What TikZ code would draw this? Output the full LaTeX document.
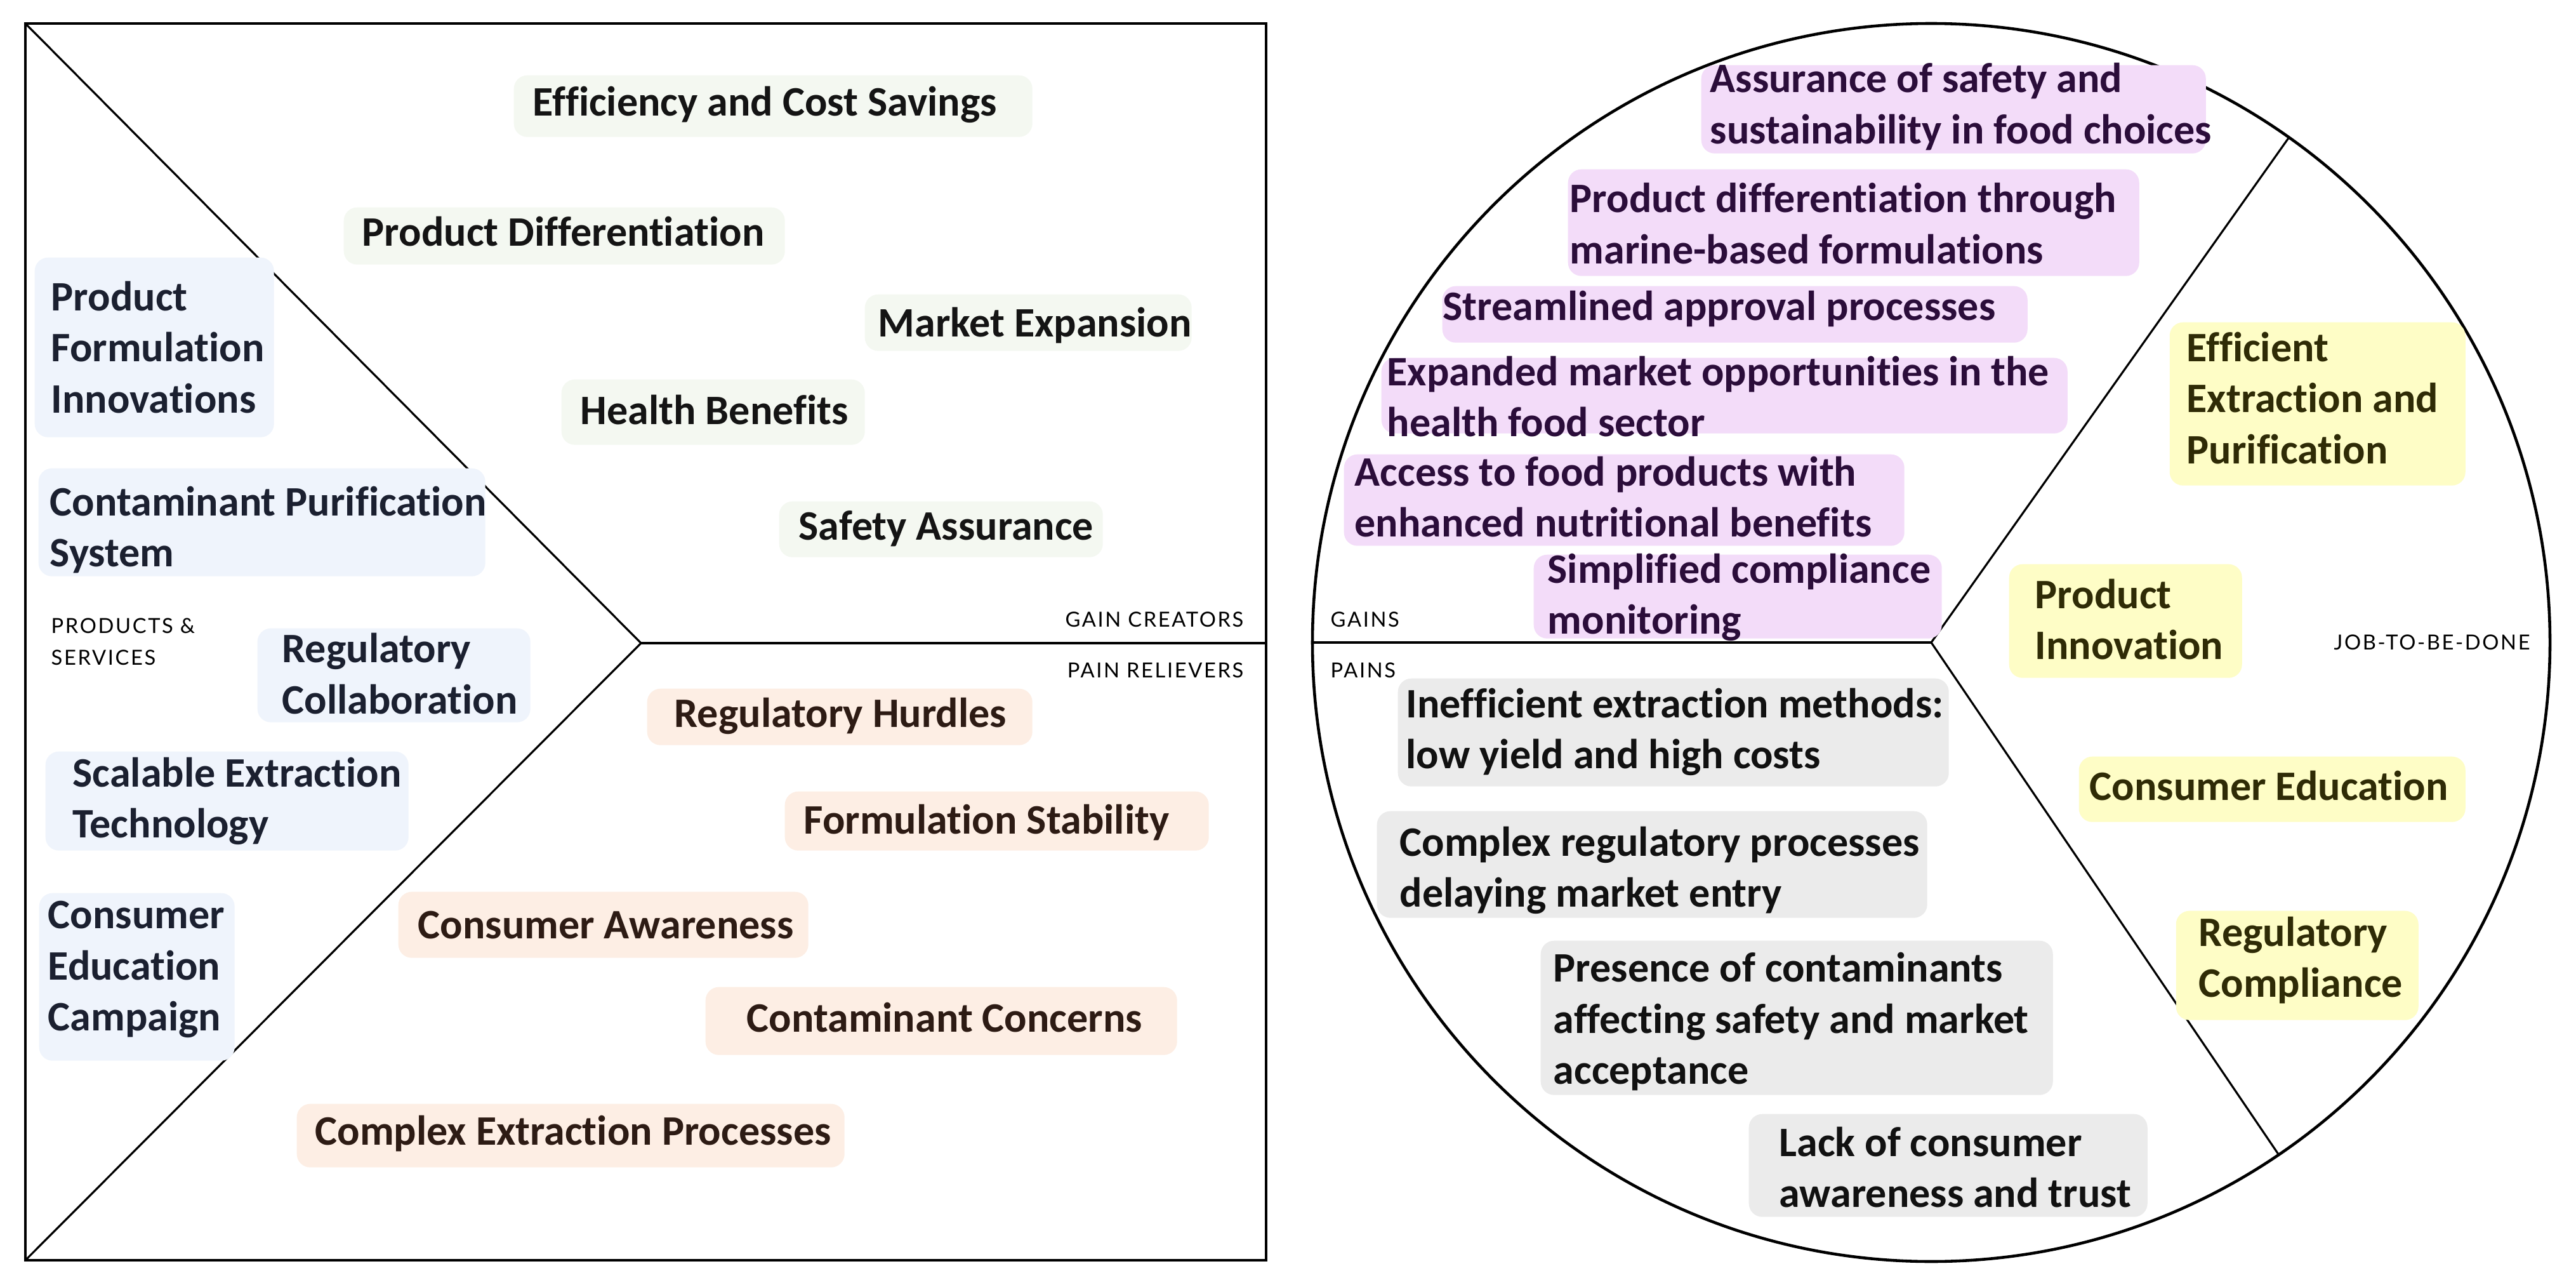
\documentclass[tikz,border=0pt]{standalone}
\usepackage{fontspec}
\setmainfont{Carlito}[Ligatures={NoCommon}]
\newfontfamily\lblfont[LetterSpace=8]{Lato}
\definecolor{gcfill}{HTML}{F4F8F1}
\definecolor{psfill}{HTML}{EFF4FC}
\definecolor{prfill}{HTML}{FDEEE4}
\definecolor{gnfill}{HTML}{F3DCF9}
\definecolor{jbfill}{HTML}{FEFDC6}
\definecolor{pnfill}{HTML}{EBEBEB}
\definecolor{gctext}{HTML}{141414}
\definecolor{pstext}{HTML}{1B2030}
\definecolor{prtext}{HTML}{2D1B14}
\definecolor{gntext}{HTML}{2B0D3A}
\definecolor{jbtext}{HTML}{2F2B06}
\definecolor{pntext}{HTML}{111111}
\begin{document}
\begin{tikzpicture}[x=1cm,y=-1cm,
  frame/.style={line width=1.3pt, black},
  divider/.style={line width=0.9pt, black},
  stickbox/.style={anchor=north west, inner sep=0pt, rounded corners=6pt},
  gcbox/.style={stickbox, fill=gcfill},
  psbox/.style={stickbox, fill=psfill},
  prbox/.style={stickbox, fill=prfill},
  gnbox/.style={stickbox, fill=gnfill},
  jbbox/.style={stickbox, fill=jbfill},
  pnbox/.style={stickbox, fill=pnfill},
  txt/.style={anchor=west, align=left, inner sep=0pt, font=\bfseries\fontsize{18.8}{22.8}\selectfont},
  lbl/.style={inner sep=0pt, align=left, font=\lblfont\fontsize{9.3}{14.2}\selectfont}
]
\useasboundingbox (0,0) rectangle (40.59,20.24);
\fill[white] (0,0) rectangle (40.59,20.24);

% ---- left panel (value map) ----
\coordinate (tl) at (0.40,0.37);
\coordinate (br) at (19.95,19.85);
\coordinate (bl) at (0.40,19.85);
\coordinate (apex) at (10.10,10.13);
\coordinate (mr) at (19.95,10.13);
\draw[frame] (tl) rectangle (br);
\draw[divider] (tl) -- (apex) -- (bl);
\draw[frame] (apex) -- (mr);

% ---- right panel (customer profile) ----
\coordinate (cc) at (30.43,10.12);
\coordinate (cl) at (20.68,10.12);
\coordinate (cu) at (36.07,2.16);
\coordinate (cd) at (35.90,18.18);
\draw[frame] (cc) circle [radius=9.75cm];
\draw[frame] (cl) -- (cc);
\draw[divider] (cu) -- (cc) -- (cd);

% ---- section labels ----
\node[lbl, anchor=base east] (lgc) at (19.60,9.87) {GAIN CREATORS};
\node[lbl, anchor=base east] (lpr) at (19.60,10.67) {PAIN RELIEVERS};
\node[lbl, anchor=west] (lps) at (0.80,10.11) {PRODUCTS \&\\SERVICES};
\node[lbl, anchor=base west] (lgn) at (20.96,9.87) {GAINS};
\node[lbl, anchor=base west] (lpn) at (20.96,10.67) {PAINS};
\node[lbl, anchor=center] (ljb) at (38.32,10.12) {JOB-TO-BE-DONE};

% ---- gain creators ----
\node[gcbox, minimum width=8.17cm, minimum height=0.97cm] (gc1) at (8.09,1.18) {};
\node[txt, text=gctext] (gc1t) at (8.39,1.65) {Efficiency and Cost Savings};
\node[gcbox, minimum width=6.95cm, minimum height=0.90cm] (gc2) at (5.41,3.26) {};
\node[txt, text=gctext] (gc2t) at (5.70,3.65) {Product Differentiation};
\node[gcbox, minimum width=5.15cm, minimum height=0.89cm] (gc3) at (13.62,4.63) {};
\node[txt, text=gctext] (gc3t) at (13.83,5.13) {Market Expansion};
\node[gcbox, minimum width=4.78cm, minimum height=1.03cm] (gc4) at (8.84,5.97) {};
\node[txt, text=gctext] (gc4t) at (9.14,6.46) {Health Benefits};
\node[gcbox, minimum width=5.10cm, minimum height=0.88cm] (gc5) at (12.27,7.89) {};
\node[txt, text=gctext] (gc5t) at (12.58,8.33) {Safety Assurance};

% ---- products & services ----
\node[psbox, minimum width=3.77cm, minimum height=2.83cm] (ps1) at (0.54,4.05) {};
\node[txt, text=pstext] (ps1t) at (0.80,5.47) {Product\\Formulation\\Innovations};
\node[psbox, minimum width=7.04cm, minimum height=1.70cm] (ps2) at (0.60,7.37) {};
\node[txt, text=pstext] (ps2t) at (0.78,8.345) {Contaminant Purification\\System};
\node[psbox, minimum width=4.30cm, minimum height=1.48cm] (ps3) at (4.05,9.89) {};
\node[txt, text=pstext] (ps3t) at (4.44,10.61) {Regulatory\\Collaboration};
\node[psbox, minimum width=5.72cm, minimum height=1.56cm] (ps4) at (0.71,11.83) {};
\node[txt, text=pstext] (ps4t) at (1.14,12.62) {Scalable Extraction\\Technology};
\node[psbox, minimum width=3.08cm, minimum height=2.64cm] (ps5) at (0.61,14.06) {};
\node[txt, text=pstext] (ps5t) at (0.75,15.27) {Consumer\\Education\\Campaign};

% ---- pain relievers ----
\node[prbox, minimum width=6.07cm, minimum height=0.89cm] (pr1) at (10.19,10.84) {};
\node[txt, text=prtext] (pr1t) at (10.62,11.28) {Regulatory Hurdles};
\node[prbox, minimum width=6.68cm, minimum height=0.93cm] (pr2) at (12.36,12.46) {};
\node[txt, text=prtext] (pr2t) at (12.66,12.96) {Formulation Stability};
\node[prbox, minimum width=6.46cm, minimum height=1.04cm] (pr3) at (6.27,14.04) {};
\node[txt, text=prtext] (pr3t) at (6.58,14.57) {Consumer Awareness};
\node[prbox, minimum width=7.43cm, minimum height=1.07cm] (pr4) at (11.11,15.54) {};
\node[txt, text=prtext] (pr4t) at (11.76,16.03) {Contaminant Concerns};
\node[prbox, minimum width=8.63cm, minimum height=1.00cm] (pr5) at (4.67,17.38) {};
\node[txt, text=prtext] (pr5t) at (4.96,17.85) {Complex Extraction Processes};

% ---- gains ----
\node[gnbox, minimum width=7.95cm, minimum height=1.39cm] (gn1) at (26.80,1.02) {};
\node[txt, text=gntext] (gn1t) at (26.94,1.68) {Assurance of safety and\\sustainability in food choices};
\node[gnbox, minimum width=9.00cm, minimum height=1.68cm] (gn2) at (24.70,2.66) {};
\node[txt, text=gntext] (gn2t) at (24.73,3.52) {Product differentiation through\\marine-based formulations};
\node[gnbox, minimum width=9.22cm, minimum height=0.89cm] (gn3) at (22.72,4.50) {};
\node[txt, text=gntext] (gn3t) at (22.73,4.87) {Streamlined approval processes};
\node[gnbox, minimum width=10.81cm, minimum height=1.19cm] (gn4) at (21.76,5.63) {};
\node[txt, text=gntext] (gn4t) at (21.85,6.245) {Expanded market opportunities in the\\health food sector};
\node[gnbox, minimum width=8.83cm, minimum height=1.44cm] (gn5) at (21.17,7.15) {};
\node[txt, text=gntext] (gn5t) at (21.34,7.825) {Access to food products with\\enhanced nutritional benefits};
\node[gnbox, minimum width=6.43cm, minimum height=1.32cm] (gn6) at (24.16,8.73) {};
\node[txt, text=gntext] (gn6t) at (24.38,9.41) {Simplified compliance\\monitoring};

% ---- jobs ----
\node[jbbox, minimum width=4.66cm, minimum height=2.57cm] (jb1) at (34.18,5.07) {};
\node[txt, text=jbtext] (jb1t) at (34.45,6.27) {Efficient\\Extraction and\\Purification};
\node[jbbox, minimum width=3.67cm, minimum height=1.79cm] (jb2) at (31.65,8.88) {};
\node[txt, text=jbtext] (jb2t) at (32.06,9.755) {Product\\Innovation};
\node[jbbox, minimum width=6.09cm, minimum height=1.03cm] (jb3) at (32.75,11.91) {};
\node[txt, text=jbtext] (jb3t) at (32.92,12.38) {Consumer Education};
\node[jbbox, minimum width=3.82cm, minimum height=1.72cm] (jb4) at (34.28,14.34) {};
\node[txt, text=jbtext] (jb4t) at (34.64,15.125) {Regulatory\\Compliance};

% ---- pains ----
\node[pnbox, minimum width=8.68cm, minimum height=1.70cm] (pn1) at (22.02,10.68) {};
\node[txt, text=pntext] (pn1t) at (22.15,11.53) {Inefficient extraction methods:\\low yield and high costs};
\node[pnbox, minimum width=8.67cm, minimum height=1.68cm] (pn2) at (21.69,12.77) {};
\node[txt, text=pntext] (pn2t) at (22.05,13.705) {Complex regulatory processes\\delaying market entry};
\node[pnbox, minimum width=8.07cm, minimum height=2.43cm] (pn3) at (24.27,14.81) {};
\node[txt, text=pntext] (pn3t) at (24.47,16.09) {Presence of contaminants\\affecting safety and market\\acceptance};
\node[pnbox, minimum width=6.28cm, minimum height=1.62cm] (pn4) at (27.55,17.54) {};
\node[txt, text=pntext] (pn4t) at (28.03,18.385) {Lack of consumer\\awareness and trust};
\end{tikzpicture}
\end{document}
